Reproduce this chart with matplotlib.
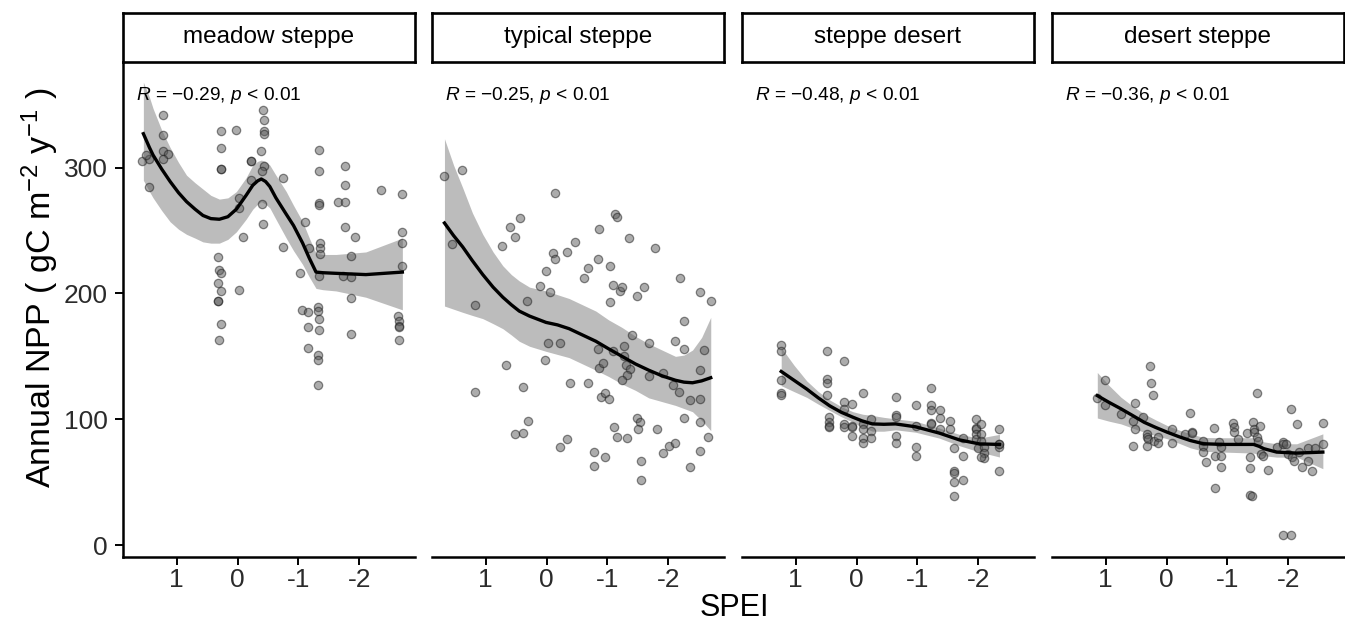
import matplotlib
matplotlib.use("Agg")
import matplotlib.pyplot as plt

plt.rcParams['font.family'] = ['Liberation Sans', 'DejaVu Sans']
plt.rcParams['mathtext.fontset'] = 'custom'
plt.rcParams['mathtext.rm'] = 'Liberation Sans'
plt.rcParams['mathtext.it'] = 'Liberation Sans:italic'

# ---- data (SPEI, annual NPP) ----
panels = ['meadow steppe', 'typical steppe', 'steppe desert', 'desert steppe']
r_labels = ['\u22120.29', '\u22120.25', '\u22120.48', '\u22120.36']

meadow_pts = [
    (1.23, 342), (1.23, 326), (1.23, 313), (1.14, 311), (1.23, 307), (1.57, 305), (1.45, 307), (1.50, 310), (1.45, 285),
    (0.27, 329), (0.02, 330), (0.27, 316), (0.27, 299), (0.27, 299),
    (-0.42, 346), (-0.43, 338), (-0.43, 329), (-0.43, 327), (-0.39, 313), (-0.43, 301), (-0.22, 305), (-0.22, 305),
    (-0.40, 297), (-0.22, 290), (-0.40, 271), (-0.42, 255),
    (-0.74, 292), (-0.03, 276), (-0.03, 268), (-0.09, 245), (-0.74, 237), (-1.11, 257),
    (-1.34, 314), (-1.34, 297), (-1.34, 272), (-1.34, 270), (-1.65, 273), (-1.77, 273), (-1.77, 301), (-1.77, 286),
    (-1.77, 253), (-1.93, 245), (-2.36, 282),
    (-2.71, 279), (-2.71, 249), (-2.71, 240), (-2.71, 222), (-1.18, 236), (-1.35, 240), (-1.35, 236), (-1.35, 231),
    (-1.02, 216), (-1.34, 214), (-1.73, 214), (-1.87, 213), (-1.87, 230), (-1.87, 196),
    (0.32, 229), (0.31, 219), (0.27, 216), (0.32, 208), (0.27, 202), (-0.03, 203), (0.32, 194), (0.32, 194),
    (0.27, 176), (0.31, 163), (-1.06, 187), (-1.16, 185), (-1.33, 189), (-1.33, 186), (-1.34, 180), (-1.16, 173),
    (-1.34, 171), (-1.16, 157), (-1.33, 151), (-1.33, 147), (-1.33, 127), (-1.87, 168),
    (-2.64, 182), (-2.66, 178), (-2.66, 174), (-2.66, 173), (-2.66, 163),
]
typical_pts = [
    (1.68, 293), (1.39, 298), (-0.13, 280), (1.56, 239), (1.17, 191), (0.73, 238), (0.60, 253), (0.52, 245),
    (0.43, 260), (0.32, 194), (0.01, 218), (0.11, 206), (-0.06, 201), (-0.11, 232), (-0.13, 227), (-0.33, 233),
    (-0.47, 241), (-0.61, 212), (-0.68, 220), (-0.84, 227), (-0.87, 251), (-1.04, 222), (-1.04, 193), (-1.09, 207),
    (-1.13, 263), (-1.16, 261), (-1.20, 202), (-1.24, 205), (-1.36, 244), (-1.49, 198), (-1.61, 205), (-1.79, 236),
    (-2.20, 212), (-2.52, 201), (-2.71, 194),
    (-2.26, 178), (-1.41, 167), (-0.03, 161), (-0.22, 161), (-0.84, 156), (-1.09, 154), (-1.28, 158), (-1.68, 161),
    (-2.12, 162), (-2.26, 156), (-2.59, 155), (0.67, 143), (0.02, 147), (-0.87, 141), (-0.92, 145), (-1.28, 150),
    (-1.30, 143), (-1.38, 140), (-1.33, 135), (-1.24, 131), (-1.68, 134), (-1.92, 137), (-2.08, 127), (-2.18, 122),
    (-2.52, 139), (1.18, 122), (0.38, 126), (-0.38, 129), (-0.68, 129), (-0.90, 118), (-0.96, 121), (-1.02, 116),
    (-2.36, 115), (-2.52, 116), (0.30, 99), (0.52, 88), (0.38, 89), (-0.22, 78), (-0.33, 84), (-0.78, 74),
    (-0.78, 63), (-0.96, 70), (-1.11, 94), (-1.16, 86), (-1.33, 85), (-1.49, 101), (-1.54, 98), (-1.50, 92),
    (-1.81, 92), (-1.56, 67), (-1.56, 52), (-1.92, 73), (-2.02, 79), (-2.12, 81), (-2.26, 101), (-2.52, 98),
    (-2.66, 86), (-2.53, 75), (-2.36, 62),
]
sdesert_pts = [
    (1.24, 159), (1.24, 154), (1.24, 131), (1.24, 121), (1.24, 119), (0.49, 154), (0.49, 132), (0.49, 129),
    (0.49, 119), (0.46, 102), (0.46, 98), (0.46, 95), (0.46, 94), (0.20, 146), (0.20, 114), (0.20, 108),
    (0.20, 96), (0.20, 94), (0.08, 112), (0.08, 95), (0.08, 94), (0.08, 87), (-0.11, 121), (-0.11, 96),
    (-0.11, 92), (-0.11, 85), (-0.11, 81), (-0.24, 100), (-0.24, 91), (-0.24, 85), (-0.65, 118), (-0.65, 103),
    (-0.65, 102), (-0.65, 87), (-0.65, 81), (-0.98, 111), (-0.98, 95), (-0.98, 78), (-0.98, 71), (-1.23, 125),
    (-1.23, 111), (-1.23, 107), (-1.23, 97), (-1.23, 96), (-1.37, 107), (-1.37, 101), (-1.37, 92), (-1.54, 99),
    (-1.54, 92), (-1.60, 77), (-1.60, 59), (-1.60, 57), (-1.60, 50), (-1.60, 39), (-1.75, 85), (-1.75, 71),
    (-1.75, 52), (-1.97, 100), (-1.97, 93), (-1.97, 92), (-1.97, 88), (-1.97, 84), (-1.99, 77), (-2.05, 96),
    (-2.05, 88), (-2.05, 83), (-2.10, 78), (-2.10, 73), (-2.10, 69), (-2.05, 70), (-2.34, 92), (-2.34, 80),
    (-2.34, 78), (-2.34, 59), (-2.34, 80),
]
dsteppe_pts = [
    (1.15, 117), (1.01, 131), (1.01, 111), (0.75, 104), (0.55, 99), (0.52, 113), (0.52, 92), (0.55, 79),
    (0.39, 102), (0.32, 88), (0.32, 86), (0.31, 84), (0.32, 79), (0.28, 142), (0.26, 129), (0.22, 119),
    (0.21, 83), (0.14, 86), (0.14, 81), (-0.09, 92), (-0.09, 81), (-0.31, 88), (-0.39, 105), (-0.42, 90),
    (-0.42, 89), (-0.60, 83), (-0.60, 79), (-0.60, 74), (-0.65, 66), (-0.78, 93), (-0.80, 45), (-0.80, 71),
    (-0.86, 82), (-0.89, 78), (-0.89, 71), (-0.90, 62), (-1.10, 97), (-1.11, 94), (-1.11, 90), (-1.17, 84),
    (-1.33, 89), (-1.38, 70), (-1.38, 61), (-1.38, 40), (-1.40, 39), (-1.42, 98), (-1.43, 92), (-1.43, 90),
    (-1.48, 121), (-1.48, 86), (-1.51, 83), (-1.53, 95), (-1.55, 72), (-1.58, 71), (-1.67, 60), (-1.81, 78),
    (-1.92, 82), (-1.92, 80), (-1.97, 80), (-1.99, 72), (-2.05, 108), (-2.07, 70), (-2.15, 96), (-2.10, 67),
    (-2.17, 74), (-2.22, 62), (-2.33, 77), (-2.33, 67), (-2.39, 59), (-2.44, 77), (-2.57, 97), (-2.57, 80),
    (-1.91, 8), (-2.05, 8),
]

# loess fit and confidence band
meadow_cx = [1.55, 1.45, 1.39, 1.25, 1.11, 0.97, 0.84, 0.70, 0.57, 0.44, 0.30, 0.16, 0.02, -0.14, -0.25,
             -0.33, -0.39, -0.46, -0.53, -0.63, -0.80, -0.92, -1.07, -1.18, -1.29, -1.40, -1.62, -2.11, -2.71]
meadow_fit = [327, 316, 310, 299, 289, 280, 273, 267, 262, 259.5, 259, 261, 267, 278, 286,
              289.5, 291, 289, 285, 276, 263, 254, 240, 228, 217, 216.5, 216, 215, 217]
meadow_hi = [368, 356, 347, 330, 316, 304, 294, 288, 283, 278, 275, 276, 281, 292, 302,
             305, 306, 305, 302, 294, 281, 270, 257, 244, 232, 231, 231, 233, 244]
meadow_lo = [290, 281, 276, 266, 257, 251, 247, 244, 241, 240, 240, 243, 249, 259, 267,
             271, 273, 271, 268, 259, 244, 234, 223, 213, 204, 203, 202, 197, 187]

typical_cx = [1.68, 1.53, 1.38, 1.22, 1.05, 0.88, 0.72, 0.58, 0.45, 0.28, 0.01, -0.18, -0.37, -0.59,
              -0.81, -1.02, -1.24, -1.46, -1.68, -1.90, -2.12, -2.26, -2.40, -2.55, -2.70]
typical_fit = [256, 246, 237, 226, 215, 205, 197, 191, 186, 182, 177, 175, 172, 167,
               162, 156, 150, 144, 139, 134.5, 131, 129.5, 129, 130.5, 133]
typical_hi = [323, 302, 284, 264, 247, 233, 222, 215, 210, 205, 202, 199, 196, 191,
              186, 179, 173, 166, 160, 155, 150, 151, 155, 165, 181]
typical_lo = [190, 187.5, 185, 182.5, 180, 176, 172, 167, 162, 158, 154, 151.5, 149, 144,
              139, 134, 128, 123, 117, 114, 111, 108.5, 106, 99, 91]

sdesert_cx = [1.24, 1.03, 0.82, 0.63, 0.44, 0.25, 0.06, -0.10, -0.26, -0.45, -0.64, -0.97, -1.36, -1.69, -2.02, -2.35]
sdesert_fit = [138, 131, 124, 117, 110.6, 105.5, 101.6, 98.5, 96.3, 96, 96.3, 94, 89, 83.6, 80.4, 80]
sdesert_hi = [157, 143, 130.5, 122, 115.3, 110, 106, 104, 103, 101.5, 100.3, 98.4, 93, 88, 85, 88]
sdesert_lo = [126.7, 122, 117.4, 112, 106.9, 102, 97.6, 93.5, 90.5, 90.5, 91.6, 89.7, 85, 79, 74, 70]

dsteppe_cx = [1.14, 0.95, 0.75, 0.56, 0.37, 0.18, -0.01, -0.20, -0.39, -0.61, -0.94, -1.43, -1.52, -1.60,
              -1.81, -2.14, -2.57]
dsteppe_fit = [118.8, 113.5, 108.3, 103, 97.6, 93.5, 89.7, 86.2, 83.1, 80.5, 80, 80, 78.5, 76.6,
               73.9, 73.1, 73.9]
dsteppe_hi = [137.2, 127, 117.5, 110.5, 104.3, 99.5, 95, 91.5, 88.4, 85.5, 85.3, 85.3, 83.5, 82,
              80.5, 80.5, 88.4]
dsteppe_lo = [101, 98.5, 96.3, 93, 89.7, 87, 84.5, 81, 77.3, 74.5, 73.9, 73.1, 72, 71,
              69.9, 69.9, 60.7]

all_pts = [meadow_pts, typical_pts, sdesert_pts, dsteppe_pts]
all_fits = [(meadow_cx, meadow_fit, meadow_lo, meadow_hi),
            (typical_cx, typical_fit, typical_lo, typical_hi),
            (sdesert_cx, sdesert_fit, sdesert_lo, sdesert_hi),
            (dsteppe_cx, dsteppe_fit, dsteppe_lo, dsteppe_hi)]

xticks = [1, 0, -1, -2]
xticklabels = ['1', '0', '-1', '-2']
yticks = [0, 100, 200, 300]

W, H = 1345, 625
fig = plt.figure(figsize=(W / 100, H / 100), dpi=100)

lefts = [123, 432, 742, 1052]
pw = 292
top_px, bot_px, strip_top = 62, 557, 13

for i, name in enumerate(panels):
    ax = fig.add_axes([lefts[i] / W, 1 - bot_px / H, pw / W, (bot_px - top_px) / H])
    cx, fit, lo, hi = all_fits[i]
    ax.fill_between(cx, lo, hi, color='#a6a6a6', alpha=0.75, lw=0, zorder=1)
    xs = [p[0] for p in all_pts[i]]
    ys = [p[1] for p in all_pts[i]]
    ax.scatter(xs, ys, s=36, facecolor='#5a5a5a', edgecolor='#1a1a1a', linewidths=0.9,
               alpha=0.5, zorder=2)
    ax.plot(cx, fit, color='black', lw=2.4, zorder=3, solid_joinstyle='round')

    ax.text(1.67, 357, r'$R$ = ' + r_labels[i] + r', $p$ < 0.01', fontsize=13.8,
            va='center', ha='left', color='black')

    ax.set_xlim(1.885, -2.918)
    ax.set_ylim(-9.5, 384)
    ax.set_xticks(xticks)
    ax.set_xticklabels(xticklabels)
    ax.tick_params(axis='x', length=6, width=1.4, pad=2, labelsize=19, labelcolor='#2b2b2b')
    for side in ['top', 'right']:
        ax.spines[side].set_visible(False)
    ax.spines['bottom'].set_linewidth(1.8)
    if i == 0:
        ax.spines['left'].set_linewidth(1.8)
        ax.set_yticks(yticks)
        ax.tick_params(axis='y', length=6, width=1.4, pad=5, labelsize=19, labelcolor='#2b2b2b')
    else:
        ax.spines['left'].set_visible(False)
        ax.set_yticks([])

    st = fig.add_axes([lefts[i] / W, 1 - top_px / H, pw / W, (top_px - strip_top) / H])
    st.set_xticks([])
    st.set_yticks([])
    for sp in st.spines.values():
        sp.set_linewidth(1.9)
    st.text(0.5, 0.5, name, ha='center', va='center', fontsize=17.5, transform=st.transAxes)

fig.text(0.030, 1 - 288 / H, r'Annual NPP ( gC m$^{-2}$ y$^{-1}$ )', rotation=90,
         ha='center', va='center', fontsize=24.5)
fig.text((123 + 1345) / 2 / W, 1 - 608 / H, 'SPEI', ha='center', va='center', fontsize=22)

fig.savefig('out.png', dpi=100)
